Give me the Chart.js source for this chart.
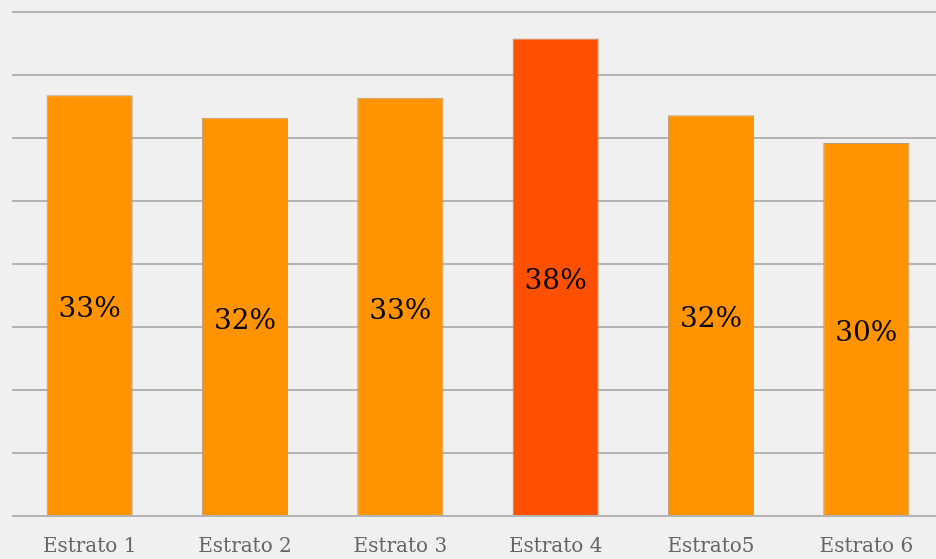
<!DOCTYPE html>
<html>
<head>
<meta charset="utf-8">
<script src="https://cdn.jsdelivr.net/npm/chart.js@4"></script>
<style>
  html, body { margin: 0; padding: 0; background: #f0f0f0; overflow: hidden; }
  #wrap { width: 944px; height: 559px; position: relative; }
</style>
</head>
<body>
<div id="wrap"><canvas id="chart"></canvas></div>
<script>
"use strict";
const categories = ["Estrato 1", "Estrato 2", "Estrato 3", "Estrato 4", "Estrato5", "Estrato 6"];
const values = [33.4, 31.6, 33.2, 37.9, 31.8, 29.6];
const valueLabels = ["33%", "32%", "33%", "38%", "32%", "30%"];
const barColors = ["#ff9300", "#ff9300", "#ff9300", "#ff5000", "#ff9300", "#ff9300"];

// draws the percentage in the middle of each bar
const centerLabels = {
    id: "centerLabels",
    afterDatasetsDraw(chart) {
        const ctx = chart.ctx;
        const meta = chart.getDatasetMeta(0);
        ctx.save();
        ctx.font = "28px 'DejaVu Serif'";
        ctx.fillStyle = "#000";
        ctx.textAlign = "center";
        ctx.textBaseline = "middle";
        meta.data.forEach((bar, i) => {
            const mid = (bar.y + bar.base) / 2;
            ctx.fillText(valueLabels[i], bar.x, mid + 5);
        });
        ctx.restore();
    }
};

const ctx = document.getElementById("chart").getContext("2d");
new Chart(ctx, {
    type: "bar",
    data: {
        labels: categories,
        datasets: [{
            data: values,
            backgroundColor: barColors,
            borderColor: "#b89a7a",
            borderWidth: 1,
            barPercentage: 0.555,
            categoryPercentage: 1
        }]
    },
    options: {
        responsive: true,
        maintainAspectRatio: false,
        animation: false,
        layout: { padding: { left: 12, top: 12, right: 0, bottom: 1 } },
        plugins: { legend: { display: false }, tooltip: { enabled: false } },
        scales: {
            x: {
                grid: { display: false, drawTicks: false },
                border: { display: false },
                ticks: {
                    padding: 19,
                    color: "#666",
                    font: { family: "'DejaVu Serif'", size: 20 }
                },
                afterFit: (scale) => { scale.height = 42; }
            },
            y: {
                min: 0,
                max: 40,
                ticks: { display: false, stepSize: 5 },
                grid: { color: "#b4b4b4", lineWidth: 2, drawTicks: false },
                border: { display: false },
                afterFit: (scale) => { scale.width = 0; }
            }
        }
    },
    plugins: [centerLabels]
});
</script>
</body>
</html>
